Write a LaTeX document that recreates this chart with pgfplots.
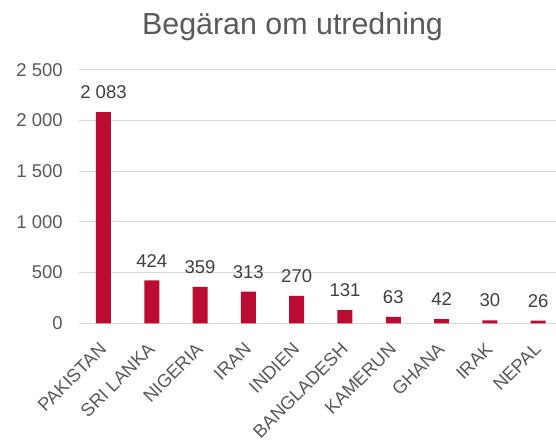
\documentclass[border=0pt]{standalone}
\usepackage{pgfplots}
\pgfplotsset{compat=1.18}
\usepackage{fontspec}
\setmainfont{Liberation Sans}
\definecolor{barred}{RGB}{186,12,50}
\definecolor{ticktext}{RGB}{89,89,89}
\definecolor{valtext}{RGB}{64,64,64}
\definecolor{gridgray}{RGB}{217,217,217}
\begin{document}
\begin{tikzpicture}[x=1bp,y=1bp]
\path[use as bounding box] (0,0) rectangle (556,441);
\begin{axis}[
  at={(79.3bp,117.7bp)}, anchor=south west,
  scale only axis, width=476.7bp, height=253.5bp,
  ymin=0, ymax=2500, ytick={0,500,1000,1500,2000,2500},
  xmin=-0.5, xmax=9.37,
  xtick={0,...,9},
  xticklabels={PAKISTAN,SRI LANKA,NIGERIA,IRAN,INDIEN,BANGLADESH,KAMERUN,GHANA,IRAK,NEPAL},
  axis line style={draw=none},
  axis x line*=bottom,
  x axis line style={draw=gridgray, line width=1.2bp},
  ymajorgrids, grid style={gridgray, line width=1.2bp},
  major tick length=0pt,
  tick label style={font=\fontsize{18.5bp}{22bp}\selectfont, text=ticktext},
  yticklabel style={xshift=-13bp},
  xticklabel style={font=\fontsize{18.3bp}{22bp}\selectfont, rotate=45, anchor=north east, inner sep=0pt, xshift=-16.3bp, yshift=-9.2bp},
  /pgf/number format/assume math mode=true,
  /pgf/number format/1000 sep={\ },
  clip=false,
]
\addplot[ybar, bar width=15bp, fill=barred, draw=none,
  nodes near coords,
  every node near coord/.append style={font=\fontsize{18.5bp}{22bp}\selectfont, text=valtext, inner sep=0pt, yshift=13bp, anchor=south},
] coordinates {(0,2083) (1,424) (2,359) (3,313) (4,270) (5,131) (6,63) (7,42) (8,30) (9,26)};
\end{axis}
\node[font=\fontsize{30.4bp}{36bp}\selectfont, text=ticktext, anchor=base] at (292.5,406) {Begäran om utredning};
\end{tikzpicture}
\end{document}
